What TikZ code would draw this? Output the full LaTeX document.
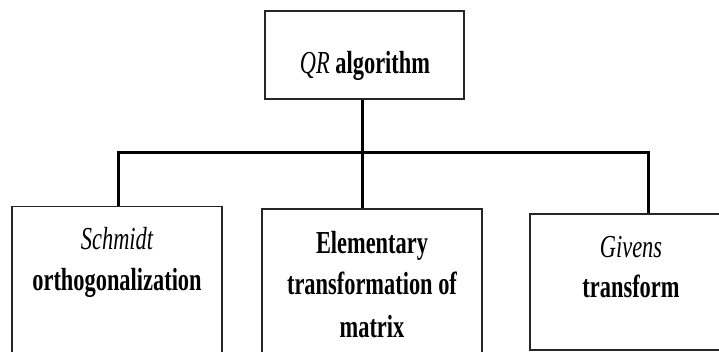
\documentclass[tikz,border=0pt]{standalone}
\usepackage{fontspec}
\newfontfamily\labfont{Liberation Serif}[FakeStretch=0.7]
\begin{document}
\begin{tikzpicture}[x=1pt,y=-1pt,
  boxstyle/.style={draw=black!85,line width=1.8pt,rectangle,inner sep=0pt},
  conn/.style={draw=black,line width=3pt},
  lab/.style={anchor=base,inner sep=0pt,font=\labfont\fontsize{32}{42}\selectfont}]
\clip (0,0) rectangle (719,351);
\fill[white] (0,0) rectangle (719,351);
% boxes
\node[boxstyle,minimum width=199pt,minimum height=88pt] (top) at (364.5,55) {};
\node[boxstyle,minimum width=210pt,minimum height=174pt] (lbox) at (117,293.5) {};
\node[boxstyle,minimum width=220pt,minimum height=171pt] (mbox) at (372,294.5) {};
\node[boxstyle,minimum width=202pt,minimum height=136pt] (rbox) at (631,282) {};
% texts
\node[lab] (ttxt) at (365,73) {\itshape QR\/ \upshape\bfseries algorithm};
\node[lab] (l1) at (117,249) {\itshape Schmidt};
\node[lab] (l2) at (117,290) {\bfseries orthogonalization};
\node[lab] (m1) at (372,253) {\bfseries Elementary};
\node[lab] (m2) at (372,294) {\bfseries transformation of};
\node[lab] (m3) at (372,337) {\bfseries matrix};
\node[lab] (r1) at (631,257) {\itshape Givens};
\node[lab] (r2) at (631,297) {\bfseries transform};
% connectors
\coordinate (jl) at (118,152);
\coordinate (jm) at (362,152);
\coordinate (jr) at (648,152);
\draw[conn] (top.south -| jm) -- (mbox.north -| jm);
\draw[conn,line join=miter] (lbox.north -| jl) -- (jl) -- (jr) -- (rbox.north -| jr);
\end{tikzpicture}
\end{document}
